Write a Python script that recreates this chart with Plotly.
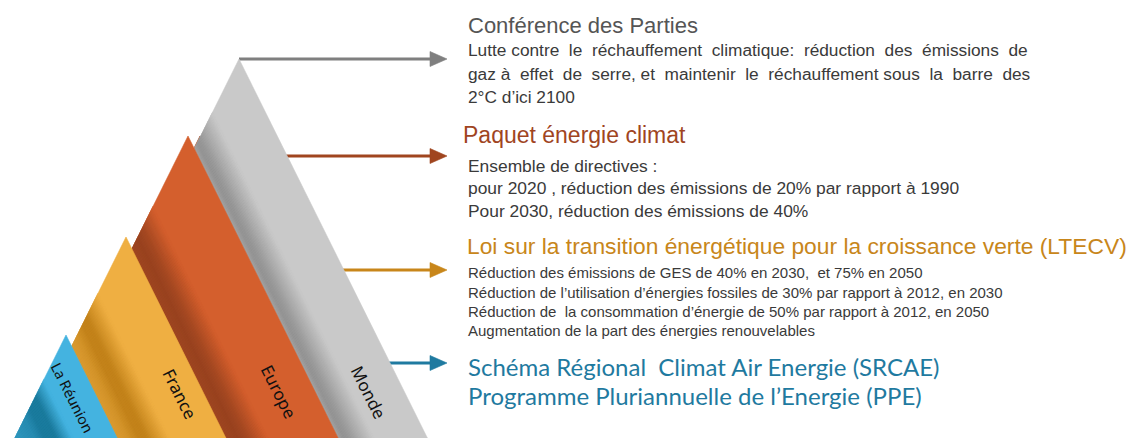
import plotly.graph_objects as go

# ---------------- data ----------------
levels = ["Monde", "Europe", "France", "La Réunion"]

titles = [
    "Conférence des Parties",
    "Paquet énergie climat",
    "Loi sur la transition énergétique pour la croissance verte (LTECV)",
]
conf_lines = [
    "Lutte contre le réchauffement climatique: réduction des émissions de",
    "gaz à effet de serre, et maintenir le réchauffement sous la barre des",
    "2°C d’ici 2100",
]
paquet_lines = [
    "Ensemble de directives :",
    "pour 2020 , réduction des émissions de 20% par rapport à 1990",
    "Pour 2030, réduction des émissions de 40%",
]
ltecv_lines = [
    "Réduction des émissions de GES de 40% en 2030,\u00a0 et 75% en 2050",
    "Réduction de l’utilisation d’énergies fossiles de 30% par rapport à 2012, en 2030",
    "Réduction de\u00a0 la consommation d’énergie de 50% par rapport à 2012, en 2050",
    "Augmentation de la part des énergies renouvelables",
]
regional_lines = [
    "Schéma Régional\u00a0 Climat Air Energie (SRCAE)",
    "Programme Pluriannuelle de l’Energie (PPE)",
]

# ---------------- style / geometry ----------------
W, H = 1140, 438
K = 0.497                     # slope dx/dy of the triangle edges
BOTTOM = 438
apex = {"Monde": (239, 59), "Europe": (188, 136), "France": (126, 237), "La Réunion": (66, 335)}
light = {"Monde": "#c9c9c9", "Europe": "#d45f2d", "France": "#efaf42", "La Réunion": "#44b3e0"}
dark = {"Monde": "#939393", "Europe": "#98421f", "France": "#c2821a", "La Réunion": "#1a7a9c"}
back = {"Europe": "#a1451f", "France": "#c8861a", "La Réunion": "#1f7fa3"}
arrow_col = ["#7f7f7f", "#a0451f", "#c8861a", "#1f7aa0"]
arrow_y = [59, 156, 270, 363]


def hex2rgb(h):
    h = h.lstrip("#")
    return tuple(int(h[i:i + 2], 16) for i in (0, 2, 4))


def mix(c1, c2, t):
    a, b = hex2rgb(c1), hex2rgb(c2)
    return "rgb(%d,%d,%d)" % tuple(round(a[i] + (b[i] - a[i]) * t) for i in range(3))


def tri(name, dx=0):
    ax, ay = apex[name]
    ax += dx
    h = BOTTOM - ay
    return [(ax, ay), (ax + K * h, BOTTOM), (ax - K * h, BOTTOM)]


def uval(p):
    return p[0] - K * p[1]


def clip(poly, u0, keep_ge):
    out = []
    n = len(poly)
    for i in range(n):
        P, Q = poly[i], poly[(i + 1) % n]
        up, uq = uval(P) - u0, uval(Q) - u0
        if not keep_ge:
            up, uq = -up, -uq
        pin, qin = up >= 0, uq >= 0
        if pin:
            out.append(P)
        if pin != qin:
            t = up / (up - uq)
            out.append((P[0] + t * (Q[0] - P[0]), P[1] + t * (Q[1] - P[1])))
    return out


def interp(profile, d):
    if d <= profile[0][0]:
        return profile[0][1]
    for (d0, t0), (d1, t1) in zip(profile, profile[1:]):
        if d0 <= d <= d1:
            return t0 + (t1 - t0) * (d - d0) / (d1 - d0)
    return profile[-1][1]


def justify(text, extra):
    """Widen a line by spreading `extra` additional spaces over its word gaps."""
    words = text.split(" ")
    gaps = len(words) - 1
    out = words[0]
    for i, w in enumerate(words[1:]):
        n = (extra * (i + 1)) // gaps - (extra * i) // gaps
        out += " " + "\u00a0" * n + w
    return out


# shading reference lines (u offsets) and profiles
ref_u = {
    "Monde": uval(apex["Europe"]),
    "Europe": uval(apex["France"]),
    "France": uval(apex["La Réunion"]),
    "La Réunion": uval(tri("La Réunion")[2]),
}
profiles = {
    "Monde": [(0, 0.7), (6, 1.0), (12, 0.9), (36, 0.0)],
    "Europe": [(0, 0.9), (12, 1.0), (22, 0.8), (42, 0.0)],
    "France": [(0, 0.45), (10, 0.6), (22, 1.0), (30, 1.0), (52, 0.0)],
    "La Réunion": [(0, 0.5), (20, 0.7), (30, 1.0), (42, 1.0), (58, 0.0)],
}

fig = go.Figure()


def poly_trace(pts, color):
    xs = [p[0] for p in pts] + [pts[0][0]]
    ys = [p[1] for p in pts] + [pts[0][1]]
    fig.add_trace(go.Scatter(x=xs, y=ys, mode="lines", fill="toself", fillcolor=color,
                             line=dict(color=color, width=0.6), hoverinfo="skip",
                             showlegend=False))


# arrows (behind the pyramid)
for yv, col in zip(arrow_y, arrow_col):
    fig.add_trace(go.Scatter(x=[apex["Monde"][0], 433], y=[yv, yv], mode="lines",
                             line=dict(color=col, width=3), hoverinfo="skip", showlegend=False))
    poly_trace([(430, yv - 7.5), (447, yv), (430, yv + 7.5)], col)

# dark back faces
for name in ["Europe", "France", "La Réunion"]:
    poly_trace(tri(name, dx=12), back[name])

# triangles with shading
for name in levels:
    t = tri(name)
    poly_trace(t, light[name])
    prof = profiles[name]
    step = 1.5
    d = 0.0
    while d < prof[-1][0]:
        tv = interp(prof, d + step / 2)
        if tv > 0.01:
            band = clip(clip(t, ref_u[name] + d, True), ref_u[name] + d + step + 0.3, False)
            if len(band) >= 3:
                poly_trace(band, mix(light[name], dark[name], tv))
        d += step

annotations = []

# level labels (rotated along the right edges)
label_pos = {"Monde": (369, 392), "Europe": (279, 391), "France": (180, 393), "La Réunion": (72.5, 397)}
for name in levels:
    x, y = label_pos[name]
    annotations.append(dict(x=x, y=y, text=name, showarrow=False, textangle=63.4,
                            xanchor="center", yanchor="middle",
                            font=dict(family="Noto Sans", size=17 if name != "La Réunion" else 14.5,
                                      color="#111111")))

TX = 466
sans = "Liberation Sans"


def add_text(txt, y, size, color, family=sans, x=TX):
    annotations.append(dict(x=x, y=y, text=txt, showarrow=False, xanchor="left",
                            yanchor="middle", font=dict(family=family, size=size, color=color)))


add_text(titles[0], 25, 22, "#555555")
conf_extra = [7, 9, 0]
for txt, yv, ex in zip(conf_lines, [50, 74, 97], conf_extra):
    add_text(justify(txt, ex) if ex else txt, yv, 17.3, "#3a3a3a")

add_text(titles[1], 135, 23, "#a0451f", x=461)
for txt, yv in zip(paquet_lines, [166, 188, 211]):
    add_text(txt, yv, 17.4, "#3a3a3a")

add_text(titles[2], 246, 22.8, "#c8861a", x=465)
for txt, yv in zip(ltecv_lines, [272, 292, 311, 330]):
    add_text(txt, yv, 15, "#3a3a3a")

for txt, yv in zip(regional_lines, [366, 395]):
    add_text(txt, yv, 24, "#1f7aa0", family="Lato")

fig.update_layout(
    width=W, height=H,
    margin=dict(l=0, r=0, t=0, b=0),
    paper_bgcolor="white", plot_bgcolor="white",
    xaxis=dict(range=[0, W], visible=False, fixedrange=True),
    yaxis=dict(range=[H, 0], visible=False, fixedrange=True),
    annotations=annotations,
    showlegend=False,
)

fig.write_html("out.html", config={"displayModeBar": False},
               post_script="document.body.style.margin='0';document.body.style.overflow='hidden';")
